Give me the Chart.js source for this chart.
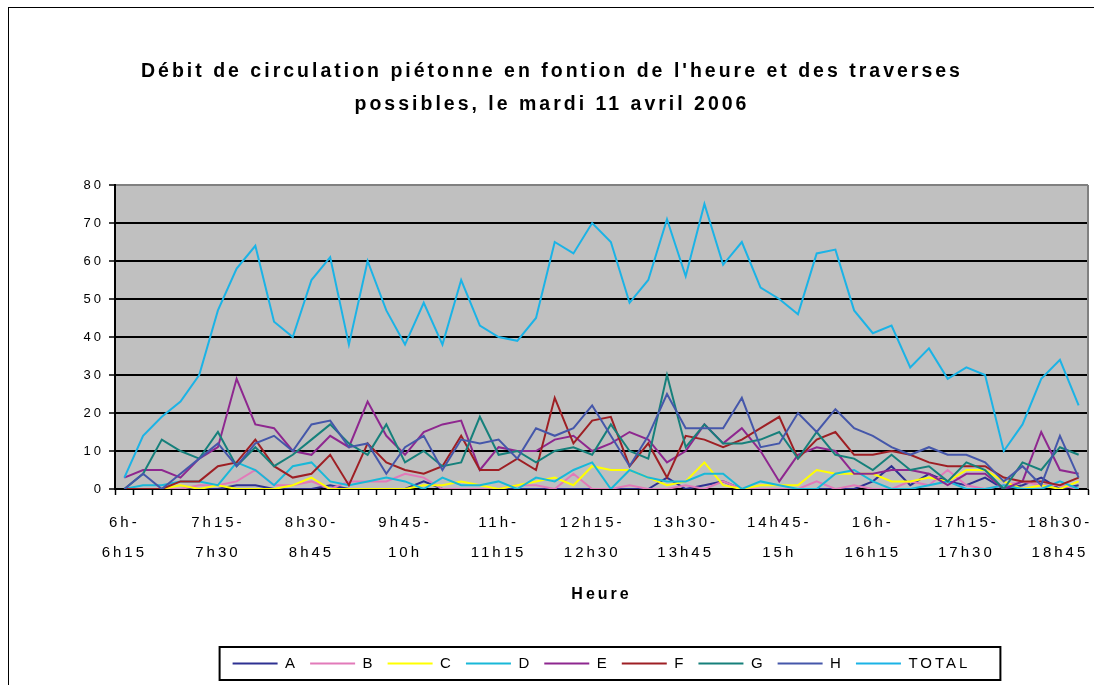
<!DOCTYPE html>
<html lang="fr">
<head>
<meta charset="utf-8">
<title>Débit de circulation piétonne</title>
<script src="https://cdn.jsdelivr.net/npm/chart.js@4.4.1/dist/chart.umd.min.js"></script>
<style>
  html, body { margin: 0; padding: 0; background: #fff; }
  #wrap { position: relative; width: 1094px; height: 685px; overflow: hidden; }
  #cadre { position: absolute; left: 8px; top: 7px; width: 1200px; height: 800px;
           border-left: 1px solid #000; border-top: 1px solid #000; pointer-events: none; }
</style>
</head>
<body>
<div id="wrap">
  <canvas id="chart" width="1094" height="685"></canvas>
  <div id="cadre"></div>
</div>
<script>
// --- Données (comptages par quart d'heure) ---
const heures = ['6h','6h15','6h30','6h45','7h','7h15','7h30','7h45','8h','8h15','8h30','8h45',
  '9h','9h15','9h30','9h45','10h','10h15','10h30','10h45','11h','11h15','11h30','11h45',
  '12h','12h15','12h30','12h45','13h','13h15','13h30','13h45','14h','14h15','14h30','14h45',
  '15h','15h15','15h30','15h45','16h','16h15','16h30','16h45','17h','17h15','17h30','17h45',
  '18h','18h15','18h30','18h45','19h'];

const traverseA = [0,0,0,0,0,0,1,1,0,0, 0,1,0,0,0,0,2,0,0,0, 0,0,0,0,0,0,0,0,0,3, 0,1,2,0,0,0,0,0,0,0, 2,6,1,4,2,1,3,0,1,3, 0,1];
const traverseB = [0,0,0,0,1,1,2,5,1,1, 2,0,2,2,2,4,3,0,0,0, 0,1,1,0,4,0,0,1,0,0, 1,0,2,0,0,0,0,2,0,1, 0,0,2,1,5,1,0,1,2,1, 1,0];
const traverseC = [0,0,0,1,0,1,0,0,0,1, 3,0,0,0,0,0,1,1,2,1, 0,1,2,3,1,6,5,5,3,1, 2,7,1,0,1,1,1,5,4,4, 4,2,2,3,2,5,5,2,0,1, 0,2];
const traverseD = [0,1,1,2,2,1,7,5,1,6, 7,2,1,2,3,2,0,3,1,1, 2,0,3,2,5,7,0,5,3,2, 2,4,4,0,2,1,0,0,4,5, 2,0,0,1,2,0,0,1,0,0, 2,0];
const traverseE = [3,5,5,3,8,11,29,17,16,10, 9,14,11,23,14,9,15,17,18,5, 11,10,10,13,14,10,12,15,13,7, 10,17,12,16,10,2,9,11,10,4, 4,5,5,4,1,4,4,0,2,15, 5,4];
const traverseF = [0,0,0,2,2,6,7,13,6,3, 4,9,1,12,7,5,4,6,14,5, 5,8,5,24,12,18,19,6,12,3, 14,13,11,13,16,19,8,13,15,9, 9,10,9,7,6,6,6,3,2,2, 1,3];
const traverseG = [0,4,13,10,8,15,6,11,6,9, 13,17,12,9,17,7,10,6,7,19, 9,10,7,10,11,9,17,10,8,30, 11,17,12,12,13,15,8,15,9,8, 5,9,5,6,2,7,5,0,7,5, 11,9];
const traverseH = [0,4,0,4,8,12,6,12,14,10, 17,18,11,12,4,11,14,5,13,12, 13,8,16,14,16,22,14,6,14,25, 16,16,16,24,11,12,20,15,21,16, 14,11,9,11,9,9,7,2,6,1, 14,3];
const total     = [3,14,19,23,30,47,58,64,44,40, 55,61,38,60,47,38,49,38,55,43, 40,39,45,65,62,70,65,49,55,71, 56,75,59,65,53,50,46,62,63,47, 41,43,32,37,29,32,30,10,17,29, 34,22];

const yTicks = [0, 10, 20, 30, 40, 50, 60, 70, 80];

// libellés sur deux lignes : "6h-" / "6h15"
const categories = heures.slice(0, -1).map((h, i) => [h + '-', heures[i + 1]]);

const FONT = 'Liberation Sans, Arial, sans-serif';

// --- Plugins maison ---
const decor = {
    id: 'decor',
    beforeLayout(chart) {
        chart.ctx.letterSpacing = '3px';
    },
    beforeDraw(chart) {
        const { ctx, chartArea: a } = chart;
        ctx.letterSpacing = '3px';
        ctx.save();
        ctx.fillStyle = '#c0c0c0';
        ctx.fillRect(a.left, a.top, a.right - a.left, a.bottom - a.top);
        ctx.restore();
    },
    beforeDatasetsDraw(chart) {
        const { ctx, chartArea: a } = chart;
        ctx.save();
        ctx.strokeStyle = '#808080';
        ctx.lineWidth = 2;
        ctx.beginPath();
        ctx.moveTo(a.right, a.top);
        ctx.lineTo(a.right, a.bottom);
        ctx.stroke();
        ctx.restore();
    },
    afterDraw(chart) {
        // cadre autour de la légende
        const lg = chart.legend;
        const boxes = lg.legendHitBoxes;
        if (!boxes || !boxes.length) return;
        const first = boxes[0];
        const last = boxes[boxes.length - 1];
        const ctx = chart.ctx;
        ctx.save();
        ctx.strokeStyle = '#000';
        ctx.lineWidth = 2;
        const x0 = first.left - 13;
        const x1 = last.left + last.width + 30;
        ctx.strokeRect(x0, lg.top + 3, x1 - x0, lg.bottom - lg.top - 4);
        ctx.restore();
    }
};

function serie(label, data, color, order) {
    return {
        label: label,
        data: data,
        borderColor: color,
        backgroundColor: color,
        borderWidth: 2,
        pointRadius: 0,
        pointHoverRadius: 0,
        tension: 0,
        fill: false,
        order: order
    };
}

const ctx = document.getElementById('chart').getContext('2d');

new Chart(ctx, {
    type: 'line',
    data: {
        labels: categories,
        datasets: [
            serie('A', traverseA, '#2e3192', 9),
            serie('B', traverseB, '#e27ab9', 8),
            serie('C', traverseC, '#ffff00', 7),
            serie('D', traverseD, '#19b8d8', 6),
            serie('E', traverseE, '#8e278f', 5),
            serie('F', traverseF, '#9e1f24', 4),
            serie('G', traverseG, '#16807b', 3),
            serie('H', traverseH, '#4557aa', 2),
            serie('TOTAL', total, '#1bb3e6', 1)
        ]
    },
    options: {
        responsive: false,
        animation: false,
        devicePixelRatio: 1,
        layout: { padding: { left: 16, right: 6, top: 0, bottom: 4 } },
        plugins: {
            title: {
                display: true,
                text: ["Débit de circulation piétonne en fontion de l'heure et des traverses",
                       'possibles, le mardi 11 avril 2006'],
                color: '#000',
                font: { family: FONT, size: 19.5, weight: 'bold', lineHeight: 1.7 },
                padding: { top: 55, bottom: 63.7 }
            },
            legend: {
                position: 'bottom',
                fullSize: false,
                labels: {
                    usePointStyle: true,
                    pointStyle: 'line',
                    pointStyleWidth: 45,
                    color: '#000',
                    font: { family: FONT, size: 15 },
                    padding: 12,
                    sort: (a, b) => a.datasetIndex - b.datasetIndex
                }
            },
            tooltip: { enabled: false }
        },
        scales: {
            x: {
                offset: true,
                grid: {
                    offset: true,
                    drawOnChartArea: false,
                    drawTicks: true,
                    tickLength: 6,
                    tickColor: '#000',
                    tickWidth: 1.5
                },
                border: { color: '#000', width: 2 },
                ticks: {
                    autoSkip: false,
                    maxRotation: 0,
                    minRotation: 0,
                    color: '#000',
                    padding: 13,
                    font: { family: FONT, size: 15, lineHeight: 2 },
                    callback: function (value, index) {
                        return index % 5 === 0 ? this.getLabelForValue(value) : '';
                    }
                },
                title: {
                    display: true,
                    text: 'Heure',
                    color: '#000',
                    font: { family: FONT, size: 16, weight: 'bold', lineHeight: 1.2 },
                    padding: { top: 0, bottom: 40 }
                },
                afterFit: (scale) => { scale.height = 155; }
            },
            y: {
                min: yTicks[0],
                max: yTicks[yTicks.length - 1],
                afterBuildTicks: (scale) => { scale.ticks = yTicks.map(v => ({ value: v })); },
                grid: {
                    color: (c) => c.tick && c.tick.value === 80 ? '#808080' : '#000',
                    lineWidth: 2,
                    drawTicks: true,
                    tickLength: 6,
                    tickColor: '#000',
                    tickWidth: 1.5
                },
                border: { color: '#000', width: 2 },
                ticks: {
                    color: '#000',
                    padding: 5,
                    font: { family: FONT, size: 13 }
                },
                afterFit: (scale) => { scale.width = 99; }
            }
        }
    },
    plugins: [decor]
});
</script>
</body>
</html>
